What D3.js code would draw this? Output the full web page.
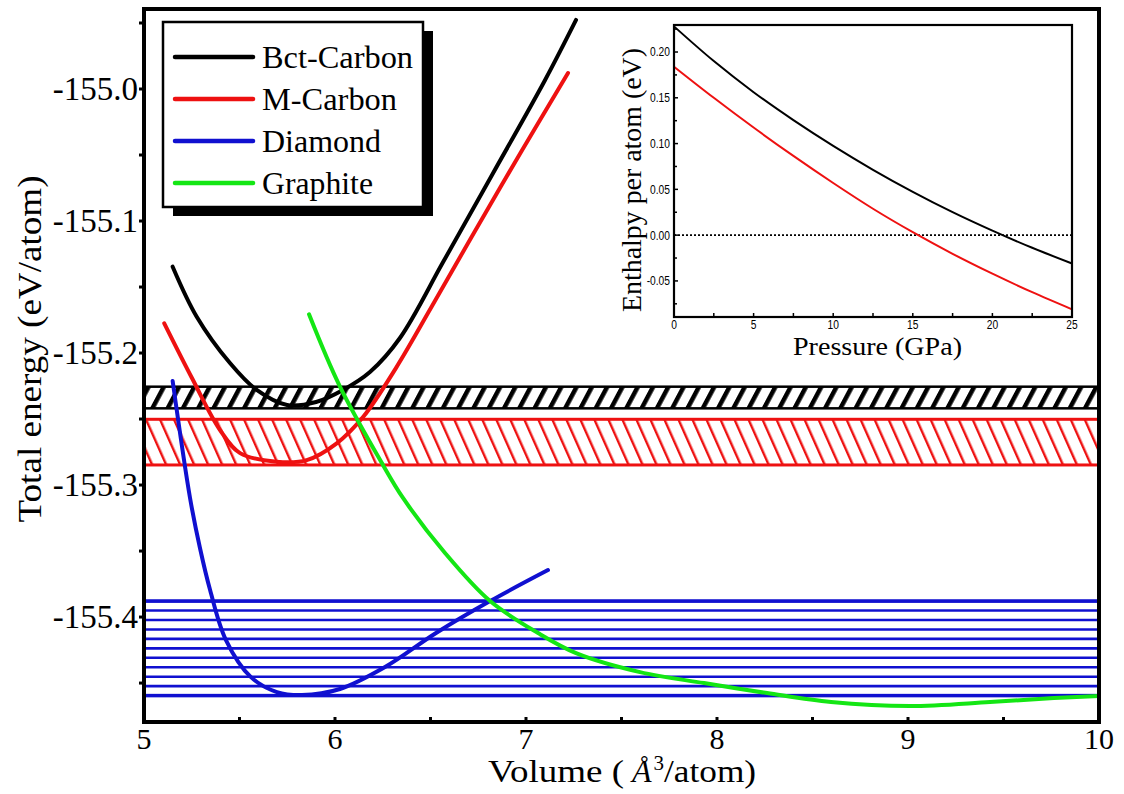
<!DOCTYPE html>
<html><head><meta charset="utf-8">
<script src="https://cdn.jsdelivr.net/npm/d3@7/dist/d3.min.js"></script>
<style>body{margin:0;background:#fff}svg{display:block}
.serif{font-family:"Liberation Serif","Tinos","Times New Roman","Nimbus Roman","FreeSerif","DejaVu Serif","Noto Serif",serif;}
.narrow{font-family:"Liberation Sans Narrow","Arial Narrow","Liberation Sans","Arimo","DejaVu Sans Condensed",sans-serif;}
</style>
</head><body>
<svg id="chart" width="1124" height="794"></svg>
<script>
// ---------------- data ----------------
const seriesNames = ["Bct-Carbon", "M-Carbon", "Diamond", "Graphite"];
const seriesColors = ["#000000", "#ee1111", "#1010d0", "#14e614"];

const bctV = [5.150, 5.276, 5.450, 5.590, 5.749, 5.901, 6.042, 6.183, 6.340, 6.566, 6.828, 7.100, 7.262];
const bctE = [-155.1346, -155.1725, -155.2076, -155.2280, -155.2394, -155.2371, -155.2280, -155.2144, -155.1886, -155.1311, -155.0636, -154.9932, -154.9477];

const mcV = [5.106, 5.251, 5.398, 5.503, 5.695, 5.852, 6.009, 6.148, 6.319, 6.505, 6.715, 6.974, 7.220];
const mcE = [-155.1775, -155.2189, -155.2583, -155.2758, -155.2823, -155.2811, -155.2684, -155.2483, -155.2114, -155.1652, -155.1121, -155.0477, -154.9879];

const diaV = [5.150, 5.241, 5.293, 5.346, 5.429, 5.560, 5.696, 5.827, 6.026, 6.262, 6.529, 6.812, 7.115];
const diaE = [-155.2212, -155.3098, -155.3477, -155.3795, -155.4174, -155.4455, -155.4568, -155.4591, -155.4545, -155.4379, -155.4121, -155.3879, -155.3644];

const graV = [5.864, 6.026, 6.251, 6.356, 6.576, 6.812, 7.063, 7.262, 7.597, 7.932, 8.262, 8.597, 9.010, 9.429, 9.764, 10.0];
const graE = [-155.1707, -155.2255, -155.2848, -155.3098, -155.3515, -155.3879, -155.4121, -155.4273, -155.4417, -155.4500, -155.4576, -155.4644, -155.4674, -155.4644, -155.4614, -155.4598];

// energy bands [top, bottom]
const bandBct = [-155.2255, -155.2419];
const bandMc = [-155.2502, -155.2848];
const bandDia = [-155.3879, -155.4595];

const xTicks = [5, 6, 7, 8, 9, 10];
const xTickLabels = ["5", "6", "7", "8", "9", "10"];
const xMinor = [5.5, 6.5, 7.5, 8.5, 9.5];
const yTicks = [-155.0, -155.1, -155.2, -155.3, -155.4];
const yTickLabels = ["-155.0", "-155.1", "-155.2", "-155.3", "-155.4"];
const yMinor = [-154.95, -155.05, -155.15, -155.25, -155.35, -155.45];

// inset: enthalpy per atom vs pressure
const pressure = [0, 2.5, 5, 7.5, 10, 12.5, 15, 17.5, 20, 22.5, 25];
const hBct = [0.228, 0.1901, 0.1561, 0.1256, 0.0975, 0.0714, 0.0473, 0.0251, 0.0049, -0.0138, -0.031];
const hMc = [0.184, 0.150, 0.1175, 0.0865, 0.0569, 0.0288, 0.0032, -0.0204, -0.0421, -0.0623, -0.081];
const insetXTicks = [0, 5, 10, 15, 20, 25];
const insetXTickLabels = ["0", "5", "10", "15", "20", "25"];
const insetXMinor = [2.5, 7.5, 12.5, 17.5, 22.5];
const insetYTicks = [-0.05, 0.00, 0.05, 0.10, 0.15, 0.20];
const insetYTickLabels = ["-0.05", "0.00", "0.05", "0.10", "0.15", "0.20"];
const insetYMinor = [-0.075, -0.025, 0.025, 0.075, 0.125, 0.175, 0.225];

// ---------------- layout ----------------
const svg = d3.select("#chart");
const L = 144, R = 1099, T = 9, B = 722;
const x = d3.scaleLinear().domain([5, 10]).range([L, R]);
const y = d3.scaleLinear().domain([-155.4795, -154.9394]).range([B, T]);

const serifEm = {"-":0.333, ".":0.25, " ":0.25};
function serifWidth(s, size) {
  let w = 0;
  for (const ch of s) w += (serifEm[ch] !== undefined ? serifEm[ch] : 0.5);
  return w * size;
}
function narrowWidth(s, size) {
  let w = 0;
  for (const ch of s) w += (ch === "." ? 0.228 : ch === "-" ? 0.273 : 0.456);
  return w * size;
}

const defs = svg.append("defs");
defs.append("clipPath").attr("id", "plotclip").append("rect")
  .attr("x", L).attr("y", T).attr("width", R - L).attr("height", B - T);

const pb = defs.append("pattern").attr("id", "hatchBct").attr("patternUnits", "userSpaceOnUse")
  .attr("width", 13.5).attr("height", 20).attr("patternTransform", "rotate(28)");
pb.append("rect").attr("x", 0).attr("y", 0).attr("width", 4.5).attr("height", 20).attr("fill", "#000");
const pr = defs.append("pattern").attr("id", "hatchMc").attr("patternUnits", "userSpaceOnUse")
  .attr("width", 12.8).attr("height", 20).attr("patternTransform", "rotate(-24)");
pr.append("rect").attr("x", 0).attr("y", 0).attr("width", 2.4).attr("height", 20).attr("fill", seriesColors[1]);

// ---------------- bands ----------------
const gBands = svg.append("g");
gBands.append("rect").attr("x", L).attr("width", R - L)
  .attr("y", y(bandBct[0])).attr("height", y(bandBct[1]) - y(bandBct[0]))
  .attr("fill", "url(#hatchBct)").attr("stroke", "#000").attr("stroke-width", 2.5);
gBands.append("rect").attr("x", L).attr("width", R - L)
  .attr("y", y(bandMc[0])).attr("height", y(bandMc[1]) - y(bandMc[0]))
  .attr("fill", "url(#hatchMc)").attr("stroke", seriesColors[1]).attr("stroke-width", 3);
const nDiaLines = 10;
const diaLines = d3.range(nDiaLines + 1).map(i => bandDia[0] + i * (bandDia[1] - bandDia[0]) / nDiaLines);
gBands.selectAll("line.dia").data(diaLines).join("line")
  .attr("x1", L).attr("x2", R).attr("y1", d => y(d)).attr("y2", d => y(d))
  .attr("stroke", seriesColors[2]).attr("stroke-width", 2.6);
gBands.append("rect").attr("x", L).attr("width", R - L)
  .attr("y", y(bandDia[0])).attr("height", y(bandDia[1]) - y(bandDia[0]))
  .attr("fill", "none").attr("stroke", seriesColors[2]).attr("stroke-width", 3.5);

// ---------------- curves ----------------
const line = d3.line().x(d => x(d[0])).y(d => y(d[1])).curve(d3.curveCatmullRom.alpha(0.5));
const series = [d3.zip(bctV, bctE), d3.zip(mcV, mcE), d3.zip(diaV, diaE), d3.zip(graV, graE)];
const gCurves = svg.append("g").attr("clip-path", "url(#plotclip)");
gCurves.selectAll("path").data(series).join("path")
  .attr("d", line).attr("fill", "none")
  .attr("stroke", (d, i) => seriesColors[i]).attr("stroke-width", 4)
  .attr("stroke-linecap", "round");

// ---------------- axes ----------------
const gAx = svg.append("g");
gAx.selectAll("line.ymaj").data(yTicks.concat(yMinor)).join("line")
  .attr("x1", L - 5).attr("x2", L).attr("y1", d => y(d)).attr("y2", d => y(d))
  .attr("stroke", "#000").attr("stroke-width", 3);
gAx.selectAll("text.ylab").data(yTicks).join("text").attr("class", "serif")
  .attr("x", L - 6).attr("y", d => y(d)).attr("dy", "0.33em")
  .attr("text-anchor", "end").attr("font-size", 33)
  .attr("textLength", (d, i) => serifWidth(yTickLabels[i], 33)).attr("lengthAdjust", "spacingAndGlyphs")
  .text((d, i) => yTickLabels[i]);
gAx.selectAll("line.xmaj").data(xTicks.concat(xMinor)).join("line")
  .attr("x1", d => x(d)).attr("x2", d => x(d)).attr("y1", B).attr("y2", B - 5)
  .attr("stroke", "#000").attr("stroke-width", 3);
gAx.selectAll("text.xlab").data(xTicks).join("text").attr("class", "serif")
  .attr("x", d => x(d)).attr("y", 749)
  .attr("text-anchor", "middle").attr("font-size", 30)
  .attr("textLength", (d, i) => serifWidth(xTickLabels[i], 30)).attr("lengthAdjust", "spacingAndGlyphs")
  .text((d, i) => xTickLabels[i]);
gAx.append("rect").attr("x", L).attr("y", T).attr("width", R - L).attr("height", B - T)
  .attr("fill", "none").attr("stroke", "#000").attr("stroke-width", 4);

// axis titles
svg.append("text").attr("class", "serif").attr("transform", "translate(41,349) rotate(-90)")
  .attr("text-anchor", "middle").attr("font-size", 34)
  .attr("textLength", 347).attr("lengthAdjust", "spacingAndGlyphs")
  .text("Total energy (eV/atom)");
const xt = svg.append("text").attr("class", "serif").attr("x", 488).attr("y", 782)
  .attr("font-size", 32);
xt.append("tspan").attr("textLength", 136).attr("lengthAdjust", "spacingAndGlyphs").text("Volume (");
xt.append("tspan").attr("dx", 8).attr("font-style", "italic").text("Å");
xt.append("tspan").attr("font-size", 21).attr("dx", 2).attr("dy", -12).text("3");
xt.append("tspan").attr("dy", 12).attr("textLength", 92).attr("lengthAdjust", "spacingAndGlyphs").text("/atom)");

// ---------------- legend ----------------
const lg = svg.append("g");
const lgX = 163, lgY = 22, lgW = 260, lgH = 185;
const legendTextW = [151, 135, 119, 111];
lg.append("rect").attr("x", lgX + 10).attr("y", lgY + 9).attr("width", lgW).attr("height", lgH).attr("fill", "#000");
lg.append("rect").attr("x", lgX).attr("y", lgY).attr("width", lgW).attr("height", lgH)
  .attr("fill", "#fff").attr("stroke", "#000").attr("stroke-width", 2.5);
const rows = lg.selectAll("g.row").data(seriesNames).join("g")
  .attr("transform", (d, i) => `translate(0,${57 + i * 42})`);
rows.append("line").attr("x1", 175).attr("x2", 253).attr("y1", 0).attr("y2", 0)
  .attr("stroke", (d, i) => seriesColors[i]).attr("stroke-width", 4.5).attr("stroke-linecap", "round");
rows.append("text").attr("class", "serif").attr("x", 262).attr("y", 11).attr("font-size", 32)
  .attr("textLength", (d, i) => legendTextW[i]).attr("lengthAdjust", "spacingAndGlyphs")
  .text(d => d);

// ---------------- inset ----------------
const iL = 674, iR = 1072, iT = 25, iB = 317;
const xi = d3.scaleLinear().domain([0, 25]).range([iL, iR]);
const yi = d3.scaleLinear().domain([-0.0894, 0.2295]).range([iB, iT]);
const gi = svg.append("g");
gi.append("rect").attr("x", iL).attr("y", iT).attr("width", iR - iL).attr("height", iB - iT).attr("fill", "#fff");
gi.append("line").attr("x1", iL).attr("x2", iR).attr("y1", yi(0)).attr("y2", yi(0))
  .attr("stroke", "#000").attr("stroke-width", 1.6).attr("stroke-dasharray", "2,2");
const lineI = d3.line().x(d => xi(d[0])).y(d => yi(d[1])).curve(d3.curveCatmullRom.alpha(0.5));
gi.selectAll("path.ic").data([d3.zip(pressure, hBct), d3.zip(pressure, hMc)]).join("path")
  .attr("d", lineI).attr("fill", "none")
  .attr("stroke", (d, i) => seriesColors[i]).attr("stroke-width", 2);
gi.selectAll("line.iyt").data(insetYTicks).join("line")
  .attr("x1", iL).attr("x2", iL + 4).attr("y1", d => yi(d)).attr("y2", d => yi(d))
  .attr("stroke", "#000").attr("stroke-width", 1.5);
gi.selectAll("line.iym").data(insetYMinor).join("line")
  .attr("x1", iL).attr("x2", iL + 3).attr("y1", d => yi(d)).attr("y2", d => yi(d))
  .attr("stroke", "#000").attr("stroke-width", 1.5);
gi.selectAll("line.ixt").data(insetXTicks.concat(insetXMinor)).join("line")
  .attr("x1", d => xi(d)).attr("x2", d => xi(d)).attr("y1", iB).attr("y2", iB - 4)
  .attr("stroke", "#000").attr("stroke-width", 1.5);
gi.selectAll("text.iyl").data(insetYTicks).join("text").attr("class", "narrow")
  .attr("x", iL - 4).attr("y", d => yi(d)).attr("dy", "0.35em").attr("text-anchor", "end")
  .attr("font-size", 12.5)
  .attr("textLength", (d, i) => narrowWidth(insetYTickLabels[i], 12.5)).attr("lengthAdjust", "spacingAndGlyphs")
  .text((d, i) => insetYTickLabels[i]);
gi.selectAll("text.ixl").data(insetXTicks).join("text").attr("class", "narrow")
  .attr("x", d => xi(d)).attr("y", 329).attr("text-anchor", "middle")
  .attr("font-size", 12.5)
  .attr("textLength", (d, i) => narrowWidth(insetXTickLabels[i], 12.5)).attr("lengthAdjust", "spacingAndGlyphs")
  .text((d, i) => insetXTickLabels[i]);
gi.append("rect").attr("x", iL).attr("y", iT).attr("width", iR - iL).attr("height", iB - iT)
  .attr("fill", "none").attr("stroke", "#000").attr("stroke-width", 2.2);
gi.append("text").attr("class", "serif").attr("x", 793).attr("y", 355)
  .attr("font-size", 25).attr("textLength", 169).attr("lengthAdjust", "spacingAndGlyphs")
  .text("Pressure (GPa)");
gi.append("text").attr("class", "serif").attr("transform", "translate(641,180) rotate(-90)").attr("text-anchor", "middle")
  .attr("font-size", 27).attr("textLength", 264).attr("lengthAdjust", "spacingAndGlyphs")
  .text("Enthalpy per atom (eV)");
</script>
</body></html>
